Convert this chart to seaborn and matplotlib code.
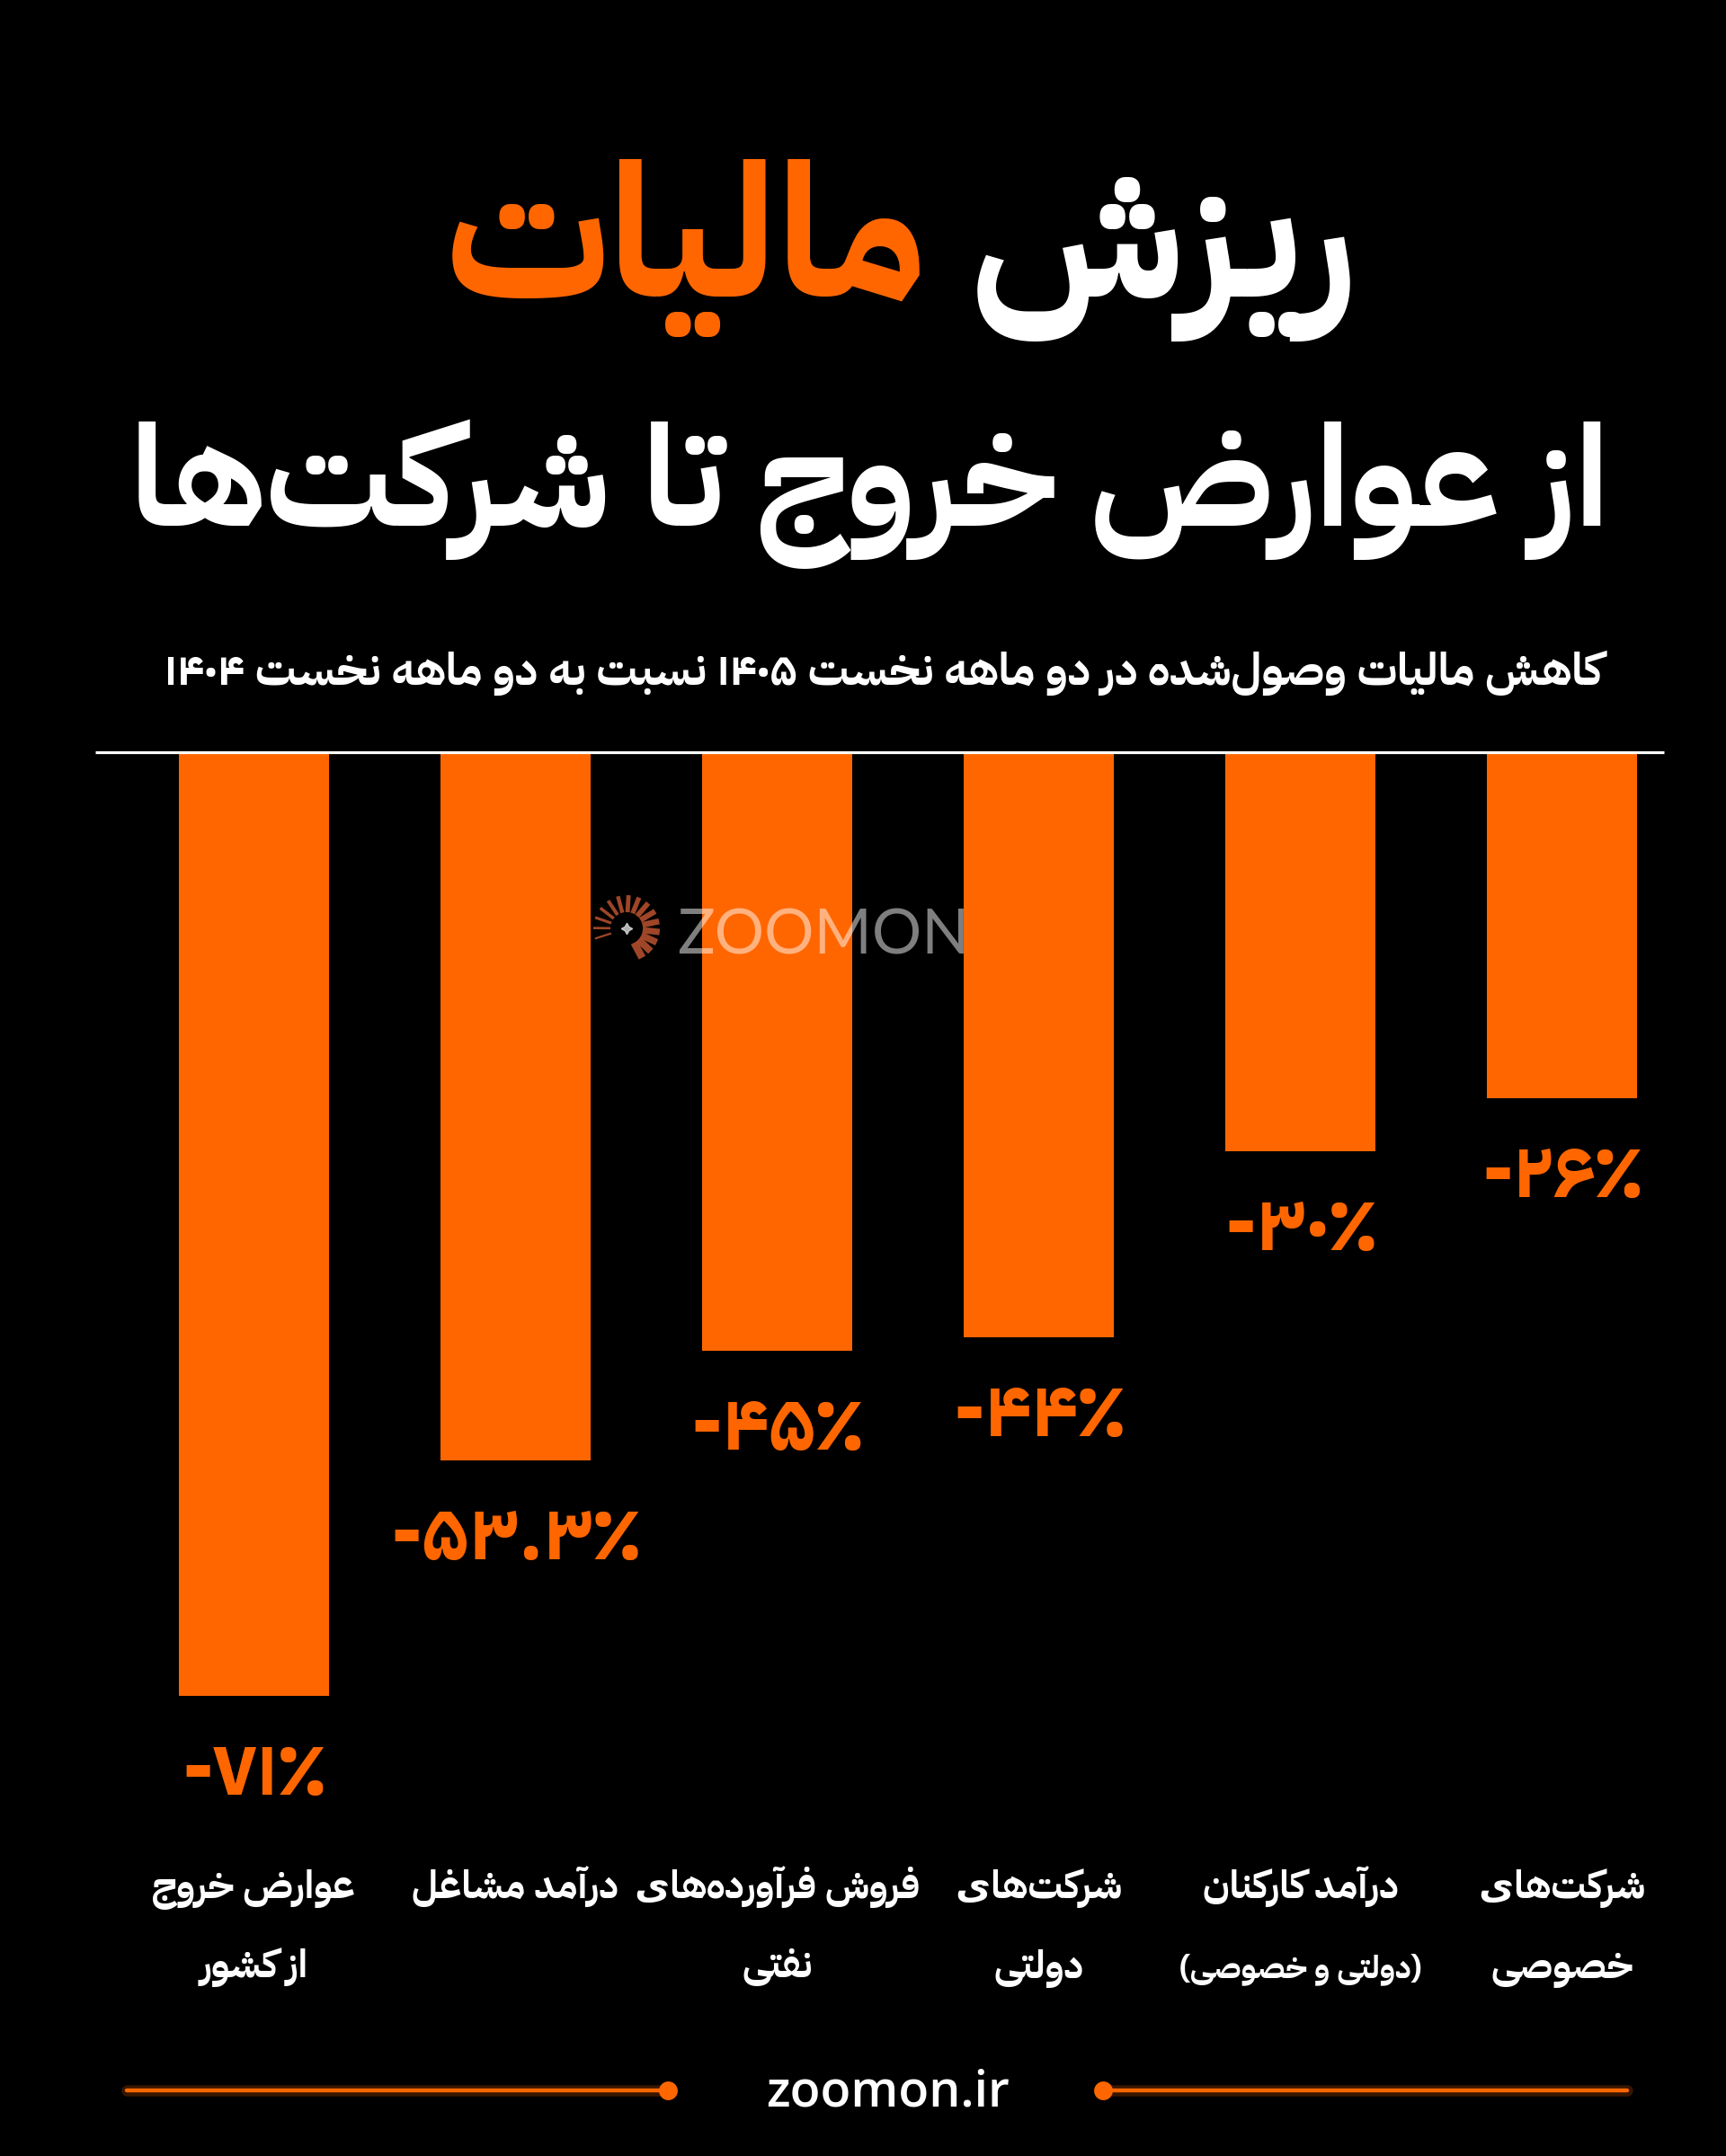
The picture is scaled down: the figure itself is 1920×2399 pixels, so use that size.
import re
import numpy as np
import pandas as pd
import matplotlib
matplotlib.use("Agg")
import matplotlib.pyplot as plt
import matplotlib.transforms as mtransforms
import seaborn as sns

# ---------------- data ----------------
title_white = "ریزش"
title_orange = "مالیات"
title_line2 = "از عوارض خروج تا شرکت‌ها"
subtitle = "کاهش مالیات وصول‌شده در دو ماهه نخست ۱۴۰۵ نسبت به دو ماهه نخست ۱۴۰۴"
categories = ["عوارض خروج از کشور", "درآمد مشاغل", "فروش فرآورده‌های نفتی",
              "شرکت‌های دولتی", "درآمد کارکنان (دولتی و خصوصی)", "شرکت‌های خصوصی"]
values = [-71, -53.3, -45, -44, -30, -26]
value_labels = ["-۷۱٪", "-۵۳.۳٪", "-۴۵٪", "-۴۴٪", "-۳۰٪", "-۲۶٪"]
label_line1 = ["عوارض خروج", "درآمد مشاغل", "فروش فرآورده‌های", "شرکت‌های", "درآمد کارکنان", "شرکت‌های"]
label_line2 = ["از کشور", "", "نفتی", "دولتی", "(دولتی و خصوصی)", "خصوصی"]
watermark = "ZOOMON"
footer = "zoomon.ir"

# ---------------- Persian shaping (presentation forms + RTL order) ----------------
FORMS = {
    "\u0628": (0xFE8F, 0xFE90, 0xFE91, 0xFE92), "\u067E": (0xFB56, 0xFB57, 0xFB58, 0xFB59),
    "\u062A": (0xFE95, 0xFE96, 0xFE97, 0xFE98), "\u062B": (0xFE99, 0xFE9A, 0xFE9B, 0xFE9C),
    "\u062C": (0xFE9D, 0xFE9E, 0xFE9F, 0xFEA0), "\u0686": (0xFB7A, 0xFB7B, 0xFB7C, 0xFB7D),
    "\u062D": (0xFEA1, 0xFEA2, 0xFEA3, 0xFEA4), "\u062E": (0xFEA5, 0xFEA6, 0xFEA7, 0xFEA8),
    "\u0633": (0xFEB1, 0xFEB2, 0xFEB3, 0xFEB4), "\u0634": (0xFEB5, 0xFEB6, 0xFEB7, 0xFEB8),
    "\u0635": (0xFEB9, 0xFEBA, 0xFEBB, 0xFEBC), "\u0636": (0xFEBD, 0xFEBE, 0xFEBF, 0xFEC0),
    "\u0637": (0xFEC1, 0xFEC2, 0xFEC3, 0xFEC4), "\u0638": (0xFEC5, 0xFEC6, 0xFEC7, 0xFEC8),
    "\u0639": (0xFEC9, 0xFECA, 0xFECB, 0xFECC), "\u063A": (0xFECD, 0xFECE, 0xFECF, 0xFED0),
    "\u0641": (0xFED1, 0xFED2, 0xFED3, 0xFED4), "\u0642": (0xFED5, 0xFED6, 0xFED7, 0xFED8),
    "\u06A9": (0xFB8E, 0xFB8F, 0xFB90, 0xFB91), "\u06AF": (0xFB92, 0xFB93, 0xFB94, 0xFB95),
    "\u0644": (0xFEDD, 0xFEDE, 0xFEDF, 0xFEE0), "\u0645": (0xFEE1, 0xFEE2, 0xFEE3, 0xFEE4),
    "\u0646": (0xFEE5, 0xFEE6, 0xFEE7, 0xFEE8), "\u0647": (0xFEE9, 0xFEEA, 0xFEEB, 0xFEEC),
    "\u06CC": (0xFBFC, 0xFBFD, 0xFBFE, 0xFBFF), "\u064A": (0xFEF1, 0xFEF2, 0xFEF3, 0xFEF4),
    "\u0627": (0xFE8D, 0xFE8E, None, None), "\u0622": (0xFE81, 0xFE82, None, None),
    "\u0623": (0xFE83, 0xFE84, None, None), "\u062F": (0xFEA9, 0xFEAA, None, None),
    "\u0630": (0xFEAB, 0xFEAC, None, None), "\u0631": (0xFEAD, 0xFEAE, None, None),
    "\u0632": (0xFEAF, 0xFEB0, None, None), "\u0698": (0xFB8A, 0xFB8B, None, None),
    "\u0648": (0xFEED, 0xFEEE, None, None), "\u0629": (0xFE93, 0xFE94, None, None),
}
LAMALEF = {"\u0627": (0xFEFB, 0xFEFC), "\u0622": (0xFEF5, 0xFEF6), "\u0623": (0xFEF7, 0xFEF8)}
MIRROR = {"(": ")", ")": "("}
LTR_RUN = r"[0-9\u06F0-\u06F9A-Za-z]+(?:[.\u066B][0-9\u06F0-\u06F9]+)*"


def _dual(c):
    return c in FORMS and FORMS[c][2] is not None


def shape(s):
    out = []
    i, n = 0, len(s)
    while i < n:
        c = s[i]
        if c not in FORMS:
            out.append(c)
            i += 1
            continue
        prev_join = i > 0 and _dual(s[i - 1])
        if c == "\u0644" and i + 1 < n and s[i + 1] in LAMALEF:
            iso, fin = LAMALEF[s[i + 1]]
            out.append(chr(fin if prev_join else iso))
            i += 2
            continue
        next_join = _dual(c) and i + 1 < n and s[i + 1] in FORMS
        iso, fin, ini, med = FORMS[c]
        if prev_join and next_join:
            code = med
        elif prev_join:
            code = fin
        elif next_join:
            code = ini
        else:
            code = iso
        out.append(chr(code))
        i += 1
    return "".join(out)


def rtl(s):
    parts = re.split("(" + LTR_RUN + ")", shape(s))
    res = []
    for p in reversed(parts):
        if p and re.fullmatch(LTR_RUN, p):
            res.append(p)
        else:
            res.append("".join(MIRROR.get(ch, ch) for ch in reversed(p)))
    return "".join(res)


# ---------------- style ----------------
W, H = 1920, 2399
ORANGE = "#FF6600"
BG = "#000000"
FA = ["IBM Plex Sans Arabic", "DejaVu Sans"]

sns.set_theme(style="white")
plt.rcParams["font.family"] = FA
plt.rcParams["figure.facecolor"] = BG
plt.rcParams["axes.facecolor"] = BG

fig = plt.figure(figsize=(W / 100, H / 100), dpi=100)
renderer = fig.canvas.get_renderer()


def fy(py):
    return 1 - py / H


def fx(px):
    return px / W


def width(t):
    return t.get_window_extent(renderer).width


def fit(t, target_w):
    t.set_fontsize(t.get_fontsize() * target_w / width(t))
    return t.get_fontsize()


# ---------------- bars ----------------
px_per_unit = 1049 / 71.0
ax_top, ax_bot = 838, 1990
ax_left, ax_w = 136.7, 1746.6
ax = fig.add_axes([fx(ax_left), fy(ax_bot), ax_w / W, (ax_bot - ax_top) / H])
df = pd.DataFrame({"category": categories, "value": values})
sns.barplot(data=df, x="category", y="value", order=categories, color=ORANGE,
            saturation=1, width=0.574, linewidth=0, ax=ax)
ax.set_xlim(-0.5, 5.5)
ax.set_ylim(-(ax_bot - ax_top) / px_per_unit, 0)
ax.set_axis_off()

# value labels
vt = []
for i, (v, lab) in enumerate(zip(values, value_labels)):
    t = ax.annotate(lab, xy=(i, v), xytext=(0, -110), textcoords="offset pixels",
                    ha="center", va="baseline", color=ORANGE, fontsize=50,
                    fontweight="bold", family=FA, annotation_clip=False)
    vt.append(t)
s = fit(vt[0], 160)
for t in vt:
    t.set_fontsize(s)

# category labels: one common size; the widest label may use most of its slot
trans = mtransforms.blended_transform_factory(ax.transData, fig.transFigure)
slot_px = ax_w / 6
l1 = [ax.text(i, fy(2112), rtl(s1), transform=trans, ha="center", va="baseline",
              color="white", fontsize=30, fontweight="bold", family=FA)
      for i, s1 in enumerate(label_line1)]
widest = max(width(t) for t in l1)
s = 30 * (slot_px * 1.09) / widest
for t in l1:
    t.set_fontsize(s)
l2 = {}
for i, s2 in enumerate(label_line2):
    if s2:
        l2[i] = ax.text(i, fy(2200), rtl(s2), transform=trans, ha="center", va="baseline",
                        color="white", fontsize=s, fontweight="bold", family=FA)
l2[4].set_fontsize(s * 0.82)
if width(l2[4]) > 272:
    fit(l2[4], 272)

# ---------------- overlay (pixel coordinates) ----------------
ov = fig.add_axes([0, 0, 1, 1], zorder=5)
ov.set_xlim(0, W)
ov.set_ylim(H, 0)
ov.set_axis_off()
ov.patch.set_alpha(0)

# baseline
ov.plot([106, 1851], [837, 837], color="white", lw=2.3, solid_capstyle="butt")

# title line 1 (two colours)
full1 = ov.text(0, 0, rtl(title_orange + " " + title_white), fontsize=100, fontweight="bold", alpha=0)
s1 = fit(full1, 1015)
wo = ov.text(0, 0, rtl(title_orange), fontsize=s1, fontweight="bold", alpha=0)
ww = ov.text(0, 0, rtl(title_white), fontsize=s1, fontweight="bold", alpha=0)
w_full, w_o, w_w = width(full1), width(wo), width(ww)
gap = w_full - w_o - w_w
x0 = 1002 - w_full / 2
for t in (full1, wo, ww):
    t.remove()
ov.text(x0, 330, rtl(title_orange), fontsize=s1, fontweight="bold", color=ORANGE, ha="left", va="baseline")
ov.text(x0 + w_o + gap, 330, rtl(title_white), fontsize=s1, fontweight="bold", color="white",
        ha="left", va="baseline")

# title line 2
t2 = ov.text(967, 585, rtl(title_line2), fontsize=100, fontweight="bold", color="white",
             ha="center", va="baseline")
fit(t2, 1645)

# subtitle
st = ov.text(983, 762, rtl(subtitle), fontsize=40, fontweight="bold", color="white",
             ha="center", va="baseline")
fit(st, 1598)

# watermark
wm = ov.text(753, 1062, watermark, fontsize=60, family=["Lato", "DejaVu Sans"], fontweight="normal",
             color="white", alpha=0.5, ha="left", va="baseline")
fit(wm, 325)
cx, cy = 697, 1033
angs = np.linspace(198, -62, 15)
lws = np.linspace(1.6, 6.0, 15)
for a, lw in zip(np.radians(angs), lws):
    r0, r1 = 18, 37
    ov.plot([cx + r0 * np.cos(a), cx + r1 * np.cos(a)], [cy - r0 * np.sin(a), cy - r1 * np.sin(a)],
            color="#B04E2C", lw=lw, alpha=0.9, solid_capstyle="butt")
ov.plot([cx], [cy], marker=(4, 1, 0), markersize=9, color="#dddddd", alpha=0.8)

# footer
fyp = 2326
for xs in ([141, 743], [1227, 1810]):
    ov.plot(xs, [fyp, fyp], color=ORANGE, lw=9, alpha=0.22, solid_capstyle="round")
    ov.plot(xs, [fyp, fyp], color=ORANGE, lw=3.2, solid_capstyle="round")
ov.plot([743, 1227], [fyp, fyp], ls="none", marker="o", markersize=15, color=ORANGE, markeredgewidth=0)
ft = ov.text(988, 2343, footer, fontsize=40, family=["Open Sans", "DejaVu Sans"], fontweight="semibold",
             color="white", ha="center", va="baseline")

fig.savefig("out.png", dpi=100, facecolor=BG)
